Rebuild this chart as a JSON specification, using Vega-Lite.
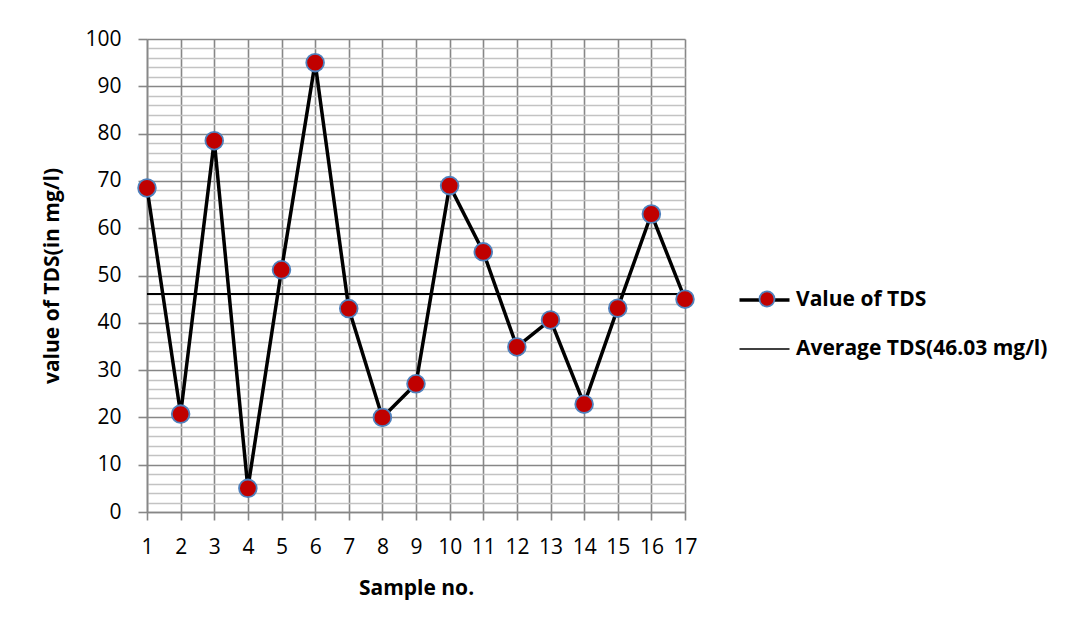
{
  "$schema": "https://vega.github.io/schema/vega-lite/v6.json",
  "width": 538,
  "height": 473,
  "autosize": {"type": "none"},
  "padding": {"left": 147, "top": 39, "right": 405, "bottom": 116},
  "background": "white",
  "config": {
    "font": "Open Sans",
    "view": {"stroke": null},
    "axis": {
      "labelFont": "Open Sans",
      "labelFontSize": 21,
      "labelColor": "black",
      "titleFont": "Open Sans",
      "titleFontSize": 21,
      "titleFontWeight": "bold",
      "titleColor": "black"
    },
    "legend": {"labelFont": "Open Sans", "padding": 0}
  },
  "data": {
    "values": [
      {"sample": 1, "tds": 68.5},
      {"sample": 2, "tds": 20.7},
      {"sample": 3, "tds": 78.5},
      {"sample": 4, "tds": 5.0},
      {"sample": 5, "tds": 51.2},
      {"sample": 6, "tds": 95.0},
      {"sample": 7, "tds": 43.0},
      {"sample": 8, "tds": 20.0},
      {"sample": 9, "tds": 27.1},
      {"sample": 10, "tds": 69.0},
      {"sample": 11, "tds": 55.0},
      {"sample": 12, "tds": 34.9},
      {"sample": 13, "tds": 40.6},
      {"sample": 14, "tds": 22.8},
      {"sample": 15, "tds": 43.1},
      {"sample": 16, "tds": 63.0},
      {"sample": 17, "tds": 45.0}
    ]
  },
  "layer": [
    {
      "mark": {"type": "rule", "strokeWidth": 1.5},
      "encoding": {
        "y": {
          "datum": 46.03,
          "type": "quantitative",
          "scale": {"domain": [0, 100], "nice": false, "zero": true},
          "axis": {
            "orient": "left",
            "values": [2,4,6,8,12,14,16,18,22,24,26,28,32,34,36,38,42,44,46,48,52,54,56,58,62,64,66,68,72,74,76,78,82,84,86,88,92,94,96,98],
            "grid": true,
            "gridColor": "#c3c3c3",
            "gridWidth": 1.6,
            "gridOpacity": 1,
            "labels": false,
            "ticks": false,
            "domain": false,
            "title": null
          }
        },
        "stroke": {
          "datum": "Average TDS(46.03 mg/l)",
          "scale": {"domain": ["Value of TDS", "Average TDS(46.03 mg/l)"], "range": ["black", "black"]},
          "legend": {
            "orient": "none",
            "legendX": 607,
            "legendY": 250.5,
            "title": null,
            "symbolType": "M-1,0H1",
            "symbolSize": 2500,
            "symbolStrokeColor": "black",
            "labelFontSize": 21,
            "labelFontWeight": "bold",
            "labelColor": "black",
            "labelOffset": 21,
            "rowPadding": 27,
            "labelLimit": 400,
            "encode": {
              "symbols": {
                "update": {
                  "strokeWidth": {"signal": "datum.value === 'Value of TDS' ? 3.5 : 1.5"}
                }
              }
            }
          }
        }
      }
    },
    {
      "mark": {"type": "line", "strokeWidth": 3.5},
      "encoding": {
        "x": {
          "field": "sample",
          "type": "quantitative",
          "scale": {"domain": [1, 17], "nice": false, "zero": false},
          "axis": {
            "values": [1,2,3,4,5,6,7,8,9,10,11,12,13,14,15,16,17],
            "title": "Sample no.",
            "grid": true,
            "gridColor": "#878787",
            "gridWidth": 1.6,
            "gridOpacity": 1,
            "domainColor": "#878787",
            "domainWidth": 1.6,
            "tickColor": "#878787",
            "tickWidth": 1.6,
            "tickSize": 8,
            "labelPadding": 16,
            "titlePadding": 20,
            "labelFlush": false,
            "labelOverlap": false
          }
        },
        "y": {
          "field": "tds",
          "type": "quantitative",
          "scale": {"domain": [0, 100], "nice": false, "zero": true},
          "axis": {
            "orient": "left",
            "values": [0,10,20,30,40,50,60,70,80,90,100],
            "title": "value of TDS(in mg/l)",
            "grid": true,
            "gridColor": "#878787",
            "gridWidth": 1.6,
            "gridOpacity": 1,
            "domainColor": "#878787",
            "domainWidth": 1.6,
            "tickColor": "#878787",
            "tickWidth": 1.6,
            "tickSize": 9,
            "labelPadding": 17,
            "titlePadding": 22,
            "labelFlush": false,
            "labelOverlap": false
          }
        },
        "stroke": {"datum": "Value of TDS"}
      }
    },
    {
      "mark": {"type": "point", "filled": true, "size": 314, "stroke": "#4f81bd", "strokeWidth": 1.8, "opacity": 1},
      "encoding": {
        "x": {
          "field": "sample",
          "type": "quantitative",
          "scale": {"domain": [1, 17], "nice": false, "zero": false},
          "axis": {
            "values": [1,2,3,4,5,6,7,8,9,10,11,12,13,14,15,16,17],
            "title": "Sample no.",
            "grid": true,
            "gridColor": "#878787",
            "gridWidth": 1.6,
            "gridOpacity": 1,
            "domainColor": "#878787",
            "domainWidth": 1.6,
            "tickColor": "#878787",
            "tickWidth": 1.6,
            "tickSize": 8,
            "labelPadding": 16,
            "titlePadding": 20,
            "labelFlush": false,
            "labelOverlap": false
          }
        },
        "y": {"field": "tds", "type": "quantitative", "axis": null},
        "fill": {
          "datum": "Value of TDS",
          "scale": {"range": ["#c00000"]},
          "legend": {
            "orient": "none",
            "legendX": 611.5,
            "legendY": 251.5,
            "title": null,
            "symbolType": "circle",
            "symbolSize": 227,
            "symbolStrokeColor": "#4f81bd",
            "symbolStrokeWidth": 1.8,
            "symbolOpacity": 1,
            "labelExpr": "''",
            "labelFontSize": 1,
            "labelOffset": 0
          }
        }
      }
    }
  ],
  "resolve": {"axis": {"y": "independent"}}
}
